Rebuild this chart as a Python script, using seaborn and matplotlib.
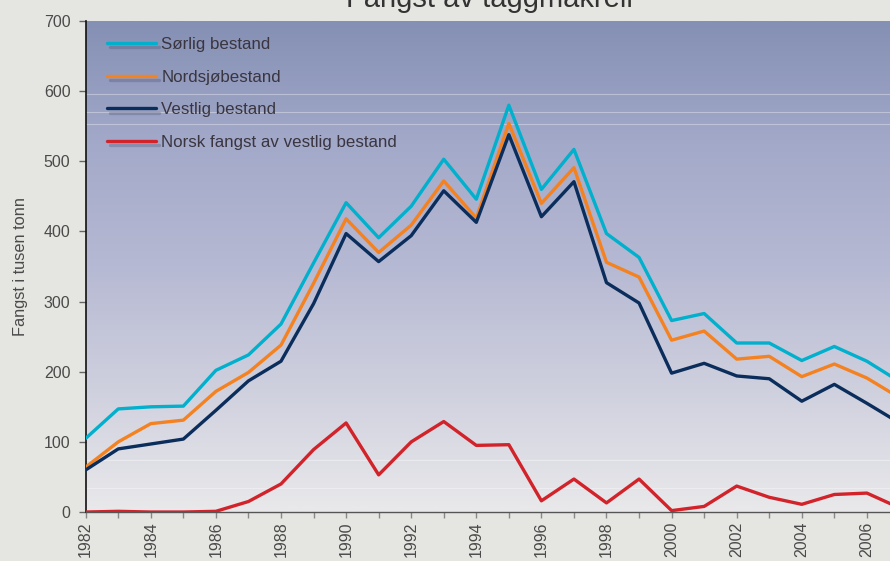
import numpy as np
import pandas as pd
import matplotlib
matplotlib.use("Agg")
import matplotlib.pyplot as plt
import matplotlib.patheffects as pe
from matplotlib import font_manager
from matplotlib.colors import LinearSegmentedColormap
from matplotlib.ticker import MultipleLocator
import seaborn as sns

years = list(range(1982, 2008))
sorlig = [105, 147, 150, 151, 202, 224, 268, 355, 441, 391, 436, 503, 446, 580, 460, 517,
          397, 363, 273, 283, 241, 241, 216, 236, 215, 186]
nordsjo = [64, 100, 126, 131, 172, 199, 238, 326, 418, 370, 409, 472, 419, 554, 440, 491,
           356, 335, 245, 258, 218, 222, 193, 211, 191, 163]
vestlig = [60, 90, 97, 104, 145, 187, 215, 297, 397, 357, 394, 458, 413, 538, 421, 471,
           327, 298, 198, 212, 194, 190, 158, 182, 155, 127]
norsk = [0, 1, 0, 0, 1, 15, 40, 89, 127, 53, 100, 129, 95, 96, 16, 47,
         13, 47, 2, 8, 37, 21, 11, 25, 27, 6]

series_names = ["Sørlig bestand", "Nordsjøbestand", "Vestlig bestand", "Norsk fangst av vestlig bestand"]
colors = ["#00b0cc", "#f58220", "#0b2d5c", "#d2232a"]

df = pd.DataFrame({"År": years * 4,
                   "Fangst": sorlig + nordsjo + vestlig + norsk,
                   "Bestand": sum([[n] * len(years) for n in series_names], [])})

sns.set_style("white")
installed = {f.name for f in font_manager.fontManager.ttflist}
plt.rcParams['font.family'] = ['Liberation Sans', 'DejaVu Sans']
if 'Liberation Sans Narrow' in installed:
    leg_font = {'family': ['Liberation Sans Narrow', 'DejaVu Sans'], 'size': 14.8}
else:
    leg_font = {'family': ['Liberation Sans', 'DejaVu Sans'], 'size': 12.2}

fig = plt.figure(figsize=(8.9, 5.61), dpi=100, facecolor="#e5e6e1")
ax = fig.add_axes([0.0963, 0.0873, 0.9037, 0.8752])

# gradient background
grad = LinearSegmentedColormap.from_list("bg", ["#8490b4", "#a3a9c9", "#b6b9d3", "#cfd0de", "#e9e9eb"])
ax.imshow(np.linspace(0, 1, 256).reshape(-1, 1), cmap=grad, aspect="auto",
          extent=[0, 1, 0, 1], transform=ax.transAxes, zorder=0)
for v in [596, 570, 553, 74, 34]:
    ax.axhline(v, color="white", lw=0.8, alpha=0.35, zorder=1)

sns.lineplot(data=df, x="År", y="Fangst", hue="Bestand", hue_order=series_names,
             palette=colors, linewidth=2.4, ax=ax, zorder=3)

for line in ax.get_lines()[-4:]:
    line.set_path_effects([pe.SimpleLineShadow(offset=(2, -3), shadow_color="#2a2d50", alpha=0.22),
                           pe.Normal()])

ax.set_xlim(1982, 2006.71)
ax.set_ylim(0, 700)
ax.set_yticks(range(0, 701, 100))
ax.xaxis.set_major_locator(MultipleLocator(2))
ax.xaxis.set_minor_locator(MultipleLocator(1))
ax.tick_params(axis="y", direction="out", length=5, width=1, color="#666666",
               labelsize=11.5, labelcolor="#4a4a4a", pad=6, left=True)
ax.tick_params(axis="x", which="both", direction="out", length=4, width=1, color="#888888",
               labelsize=11.5, labelcolor="#4a4a4a", pad=3, bottom=True)
ax.tick_params(axis="x", which="major", labelrotation=90)
ax.set_xticks(range(1982, 2007, 2))
ax.set_xticklabels([str(y) for y in range(1982, 2007, 2)])

for s in ["top", "right"]:
    ax.spines[s].set_visible(False)
ax.spines["left"].set_color("#111111")
ax.spines["left"].set_linewidth(1.2)
ax.spines["bottom"].set_color("#555555")
ax.spines["bottom"].set_linewidth(1.0)

ax.set_xlabel("")
ax.set_ylabel("Fangst i tusen tonn", fontsize=11.8, color="#4a4a4a", labelpad=11)

leg = ax.legend(loc="upper left", bbox_to_anchor=(0.0265, 0.968), frameon=False,
                prop=leg_font, labelcolor="#3a3540", handlelength=2.9,
                handletextpad=0.3, labelspacing=1.05, borderaxespad=0, borderpad=0)

fig.text(0.55, 1 - 7 / 561, "Fangst av taggmakrell", ha="center", va="baseline",
         fontsize=21, color="#333333")

fig.savefig("out.png", dpi=100, facecolor=fig.get_facecolor())
